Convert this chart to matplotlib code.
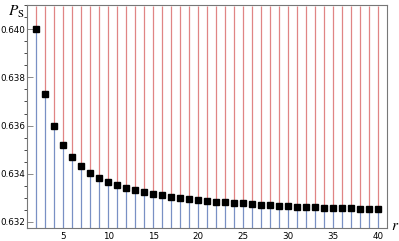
import matplotlib.pyplot as plt
import numpy as np

# r values and the probability P_S
r_vals = list(range(2, 41))
ps_vals = [0.64000, 0.63733, 0.63597, 0.63519, 0.63468, 0.63433, 0.63404,
           0.63384, 0.63366, 0.63353, 0.63341, 0.63333, 0.63323, 0.63318,
           0.63310, 0.63303, 0.63299, 0.63294, 0.63290, 0.63286, 0.63283,
           0.63282, 0.63279, 0.63277, 0.63274, 0.63270, 0.63269, 0.63267,
           0.63266, 0.63264, 0.63263, 0.63262, 0.63260, 0.63259, 0.63257,
           0.63256, 0.63255, 0.63255, 0.63253]
x_ticks = [5, 10, 15, 20, 25, 30, 35, 40]
y_ticks = [0.632, 0.634, 0.636, 0.638, 0.640]

y_lo, y_hi = 0.63175, 0.64098

plt.rcParams['mathtext.fontset'] = 'stix'

fig = plt.figure(figsize=(3.99, 2.41), dpi=100)
ax = fig.add_axes([0.068, 0.054, 0.903, 0.925])

# blue stems below each point, red stems above
ax.vlines(r_vals, y_lo, ps_vals, colors='#7990c4', lw=0.9, zorder=1)
ax.vlines(r_vals, ps_vals, y_hi, colors='#e08585', lw=0.9, zorder=1)
ax.plot(r_vals, ps_vals, 's', color='black', ms=4.6, zorder=3)

ax.set_xlim(1, 41)
ax.set_ylim(y_lo, y_hi)
ax.set_xticks(x_ticks)
ax.set_yticks(y_ticks)
ax.set_yticklabels(['%.3f' % v for v in y_ticks])
ax.set_yticks(np.arange(0.632, 0.6410, 0.0005), minor=True)

for s in ax.spines.values():
    s.set_color('#777777')
    s.set_linewidth(0.8)
ax.tick_params(axis='both', labelsize=6.3, color='#777777', width=0.6,
               direction='in', pad=1.2)
ax.tick_params(axis='y', which='major', length=4)
ax.tick_params(axis='y', which='minor', length=2, width=0.5)
ax.tick_params(axis='x', length=0, pad=3)

fig.text(0.02, 0.935, r'$P_{\mathrm{S}}$', fontsize=11)
fig.text(0.979, 0.045, r'$r$', fontsize=11)

fig.savefig('out.png', dpi=100)
